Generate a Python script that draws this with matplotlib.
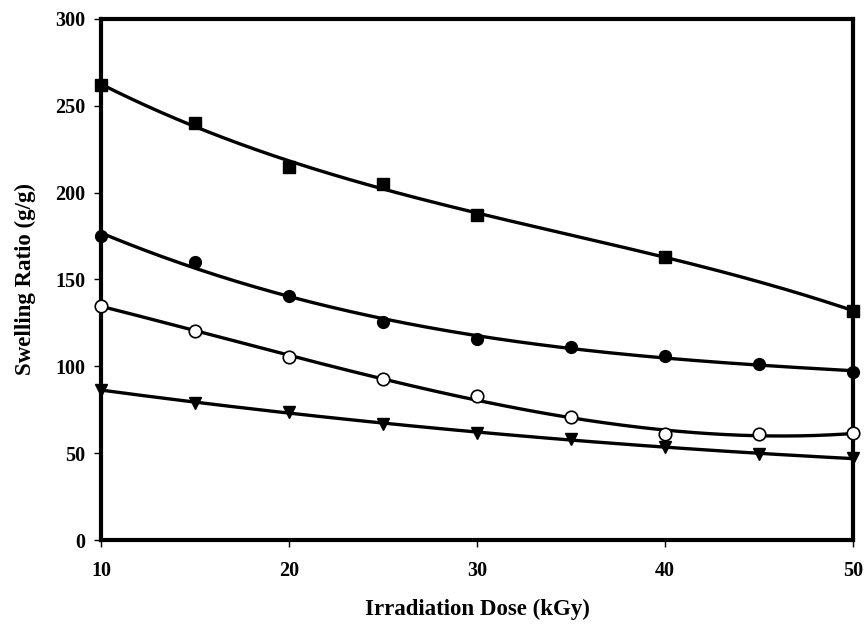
import numpy as np
import matplotlib
matplotlib.use("Agg")
import matplotlib.pyplot as plt

dose_sq = [10, 15, 20, 25, 30, 40, 50]
swell_sq = [262, 240, 215, 205, 187, 163, 132]

dose = [10, 15, 20, 25, 30, 35, 40, 45, 50]
swell_fc = [175, 160, 140.5, 125.7, 115.7, 111, 106, 101.3, 96.7]
swell_oc = [135, 120.3, 105.2, 92.5, 82.9, 70.6, 60.8, 61, 61.4]
swell_tri = [86.4, 79, 73.9, 66.8, 61.8, 58, 53.7, 49.5, 47]

xticks = [10, 20, 30, 40, 50]
yticks = [0, 50, 100, 150, 200, 250, 300]

plt.rcParams['font.family'] = ['Liberation Serif', 'DejaVu Serif']
plt.rcParams['font.weight'] = 'bold'

fig = plt.figure(figsize=(8.67, 6.24), dpi=100)
ax = fig.add_axes([0.1165, 0.1346, 0.8675, 0.835])

series = [
    (dose_sq, swell_sq, dict(marker='s', mfc='black', mec='black', ms=8)),
    (dose, swell_fc, dict(marker='o', mfc='black', mec='black', ms=8.5)),
    (dose, swell_oc, dict(marker='o', mfc='white', mec='black', ms=9, mew=1.2)),
    (dose, swell_tri, dict(marker='v', mfc='black', mec='black', ms=8.5)),
]

for xs, ys, st in series:
    coef = np.polyfit(xs, ys, 3)
    xx = np.linspace(min(xs), max(xs), 200)
    ax.plot(xx, np.polyval(coef, xx), color='black', lw=2.4, zorder=2)
    ax.plot(xs, ys, linestyle='none', zorder=3, clip_on=False, **st)

ax.set_xlim(10, 50)
ax.set_ylim(0, 300)
ax.set_xticks(xticks)
ax.set_yticks(yticks)
for s in ax.spines.values():
    s.set_linewidth(3)
ax.tick_params(direction='out', length=5, width=1, labelsize=14.5, pad=6)
ax.tick_params(axis='x', pad=10)
for lab in ax.get_xticklabels() + ax.get_yticklabels():
    lab.set_fontweight('bold')

ax.set_xlabel('Irradiation Dose (kGy)', fontsize=16.5, fontweight='bold', labelpad=13)
ax.set_ylabel('Swelling Ratio (g/g)', fontsize=16.5, fontweight='bold', labelpad=14)

fig.savefig('out.png', dpi=100)
